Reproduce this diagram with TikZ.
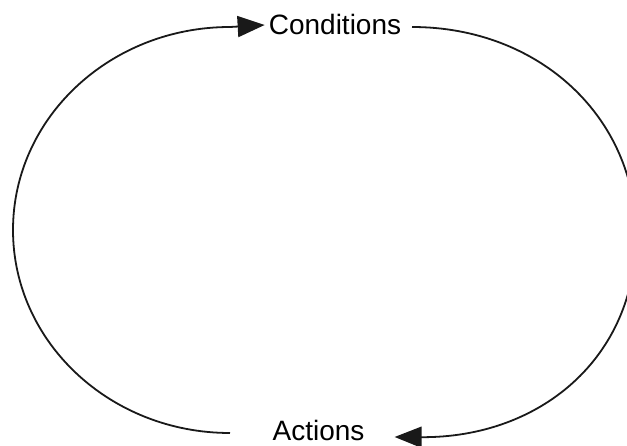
\documentclass[tikz,border=0pt]{standalone}
\usepackage{fontspec}
\setmainfont{Liberation Sans}
\usetikzlibrary{arrows.meta,calc}
\begin{document}
\begin{tikzpicture}[x=1pt,y=-1pt,
  lbl/.style={font=\fontsize{28}{30}\selectfont, inner sep=0pt, anchor=base},
  loopline/.style={line width=1.8pt, draw=black!90},
  tip/.style={-{Triangle[length=27pt,width=21pt]}}]
\useasboundingbox (0,0) rectangle (627,446);
\node[lbl] (cond) at (335,35) {Conditions};
\node[lbl] (act) at (318.5,441) {Actions};
\coordinate (lbot) at (230,433);
\coordinate (rtop) at (412,27);
% left loop: Actions side -> Conditions
\draw[loopline,tip] (lbot) .. controls (110,433) and (13,342) .. (13,230)
  .. controls (13,118) and (110,27) .. (230,27) -- ($(cond.west)+(-4,0)$);
% right loop: Conditions side -> Actions
\draw[loopline,tip] (rtop) .. controls (540,27) and (636,118) .. (636,235)
  .. controls (636,358) and (540,438) .. ($(act.east)+(30,6)$);
\end{tikzpicture}
\end{document}
